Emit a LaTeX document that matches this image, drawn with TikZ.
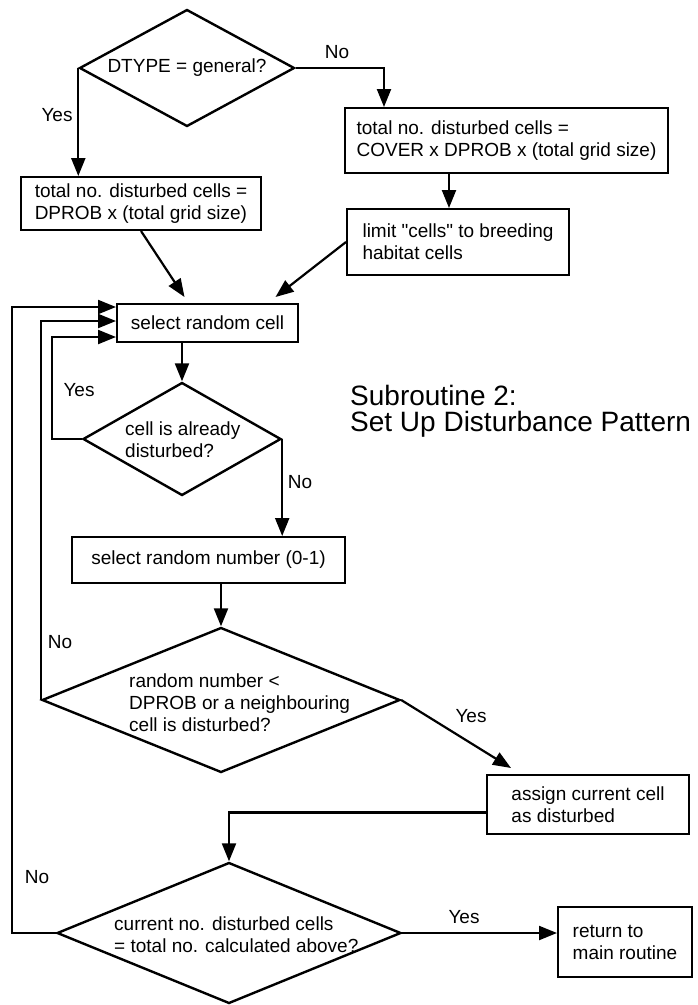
\documentclass[tikz,border=0pt]{standalone}
\usepackage{fontspec}
\setmainfont{Liberation Sans}[Ligatures=TeXOff]
\usepackage{tikz}
\usetikzlibrary{shapes.geometric}
\usetikzlibrary{arrows.meta}

\begin{document}
\begin{tikzpicture}[x=1pt,y=-1pt,
    box/.style={draw,line width=2pt,rectangle,inner sep=0pt,align=left,font=\fontsize{19}{22}\selectfont},
    decision/.style={draw,line width=2.4pt,diamond,inner sep=0pt},
    txt/.style={inner sep=0pt,align=left,font=\fontsize{19}{22}\selectfont},
    flow/.style={line width=2.2pt,-{Triangle[length=18pt,width=14pt]}}]

    \useasboundingbox (0,0) rectangle (697,1005);

    %decisions
    \node[decision,minimum width=215pt,minimum height=117pt] (d1) at (187,68) {};
    \node[decision,minimum width=198pt,minimum height=113pt] (d2) at (182,439) {};
    \node[decision,minimum width=358pt,minimum height=145pt] (d3) at (221,700) {};
    \node[decision,minimum width=344pt,minimum height=141pt] (d4) at (229,933) {};

    \node[txt] (t1) at (d1.center) {DTYPE = general?};
    \node[txt,anchor=west] (t2) at (125,440) {cell is already\\disturbed?};
    \node[txt,anchor=west] (t3) at (129,703) {random number <\\DPROB or a neighbouring\\cell is disturbed?};
    \node[txt,anchor=west] (t4) at (114,935) {current no. disturbed cells\\= total no. calculated above?};

    %boxes
    \node[box,minimum width=240pt,minimum height=53pt] (b1) at (141,203.5) {total no. disturbed cells =\\DPROB x (total grid size)};
    \node[box,minimum width=323pt,minimum height=65pt] (b2) at (506.5,140.5) {total no. disturbed cells =\\COVER x DPROB x (total grid size)};
    \node[box,minimum width=222pt,minimum height=66pt] (b3) at (458,242) {limit "cells" to breeding\\habitat cells};
    \node[box,align=center,minimum width=181pt,minimum height=38pt] (b4) at (207.5,323) {select random cell};
    \node[box,align=center,minimum width=273pt,minimum height=46pt] (b5) at (208.5,560) {select random number (0-1)};
    \node[box,minimum width=202pt,minimum height=59pt] (b6) at (588,804.5) {assign current cell\\as disturbed};
    \node[box,minimum width=134pt,minimum height=70pt] (b7) at (625,942) {return to\\main routine};

    %title
    \node[inner sep=0pt,align=left,anchor=west,font=\fontsize{28}{26}\selectfont] (title) at (350,411) {Subroutine 2:\\Set Up Disturbance Pattern};

    %labels
    \node[txt] (l1) at (57,115) {Yes};
    \node[txt] (l2) at (337,52) {No};
    \node[txt] (l3) at (79,390) {Yes};
    \node[txt] (l4) at (300,482) {No};
    \node[txt] (l5) at (60,642) {No};
    \node[txt] (l6) at (471,716) {Yes};
    \node[txt] (l7) at (37,877) {No};
    \node[txt] (l8) at (464,917) {Yes};

    %arrows
    \draw[flow] (d1.west) -- (d1.west |- b1.north);
    \draw[flow] (d1.east) -| ([xshift=40pt]b2.north west);
    \draw[flow] ([xshift=-9pt]b3.north |- b2.south) -- ([xshift=-9pt]b3.north);
    \draw[flow] (b1.south) -- ([xshift=-23pt,yshift=6pt]b4.north);
    \draw[flow] (b3.west) -- ([xshift=68pt,yshift=6pt]b4.north);
    \draw[flow] (d2.north |- b4.south) -- (d2.north);
    \draw[flow] (d2.west) -- ++(-30,0) |- ([yshift=-14pt]b4.west);
    \draw[flow] (d2.east) -- (d2.east |- b5.north);
    \draw[flow] (d3.north |- b5.south) -- (d3.north);
    \draw[flow] (d3.west) |- ([yshift=2pt]b4.west);
    \draw[flow] (d3.east) -- ([xshift=25pt,yshift=6pt]b6.north west);
    \draw[flow] ([yshift=-8pt]b6.west) -| (d4.north);
    \draw[flow] (d4.west) -- ++(-44,0) |- ([yshift=16pt]b4.west);
    \draw[flow] (d4.east) -- (d4.east -| b7.west);

\end{tikzpicture}
\end{document}
